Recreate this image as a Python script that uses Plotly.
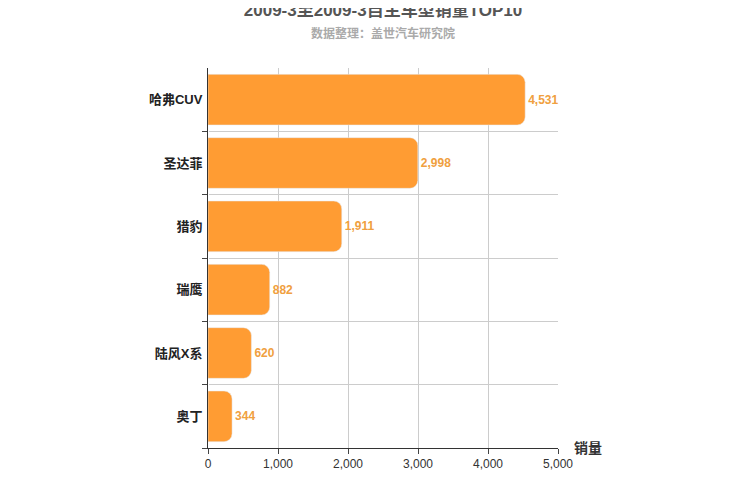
import plotly.graph_objects as go

categories = ["哈弗CUV", "圣达菲", "猎豹", "瑞鹰", "陆风X系", "奥丁"]
sales = [4531, 2998, 1911, 882, 620, 344]
tick_vals = [0, 1000, 2000, 3000, 4000, 5000]
tick_text = ["0", "1,000", "2,000", "3,000", "4,000", "5,000"]

fig = go.Figure(go.Bar(
    y=categories, x=sales, orientation="h",
    marker=dict(color="#ff9c33", cornerradius=8),
    text=[f"<b>{v:,}</b>" for v in sales], textposition="outside",
    textfont=dict(color="#f0a040", size=12, family="Arial"),
    cliponaxis=False, width=0.8,
))
fig.update_layout(
    width=750, height=500, plot_bgcolor="white", paper_bgcolor="white",
    margin=dict(l=200, r=200, t=60, b=60),
    font=dict(family="Arial, Noto Sans CJK SC", color="#333"),
    title=dict(text="<b>2009-3至2009-3自主车型销量TOP10</b><br><span style='font-size:12px;color:#aaa'><b>数据整理：盖世汽车研究院</b></span>",
               x=0.5, xanchor="center", y=0.985, yanchor="top", font=dict(size=17, color="#555")),
    xaxis=dict(range=[0, 5000], tickvals=tick_vals, ticktext=tick_text, showgrid=True,
               gridcolor="#ccc", showline=True, linecolor="#333", ticks="outside",
               tickfont=dict(size=12)),
    yaxis=dict(categoryorder="array", categoryarray=categories[::-1], showline=True,
               linecolor="#333", ticks="outside", tickson="boundaries", showgrid=True,
               gridcolor="#ccc", tickfont=dict(size=13, color="#222"), ticklabelstandoff=2),
    showlegend=False,
    annotations=[dict(text="<b>销量</b>", x=1.0, y=0, xref="paper", yref="paper",
                      xanchor="left", yanchor="middle", xshift=14, yshift=0, showarrow=False,
                      font=dict(size=14, color="#333"))],
)
fig.for_each_yaxis(lambda a: a.update(ticktext=[f"<b>{c}</b>" for c in categories], tickvals=categories))
fig.write_html("out.html")
